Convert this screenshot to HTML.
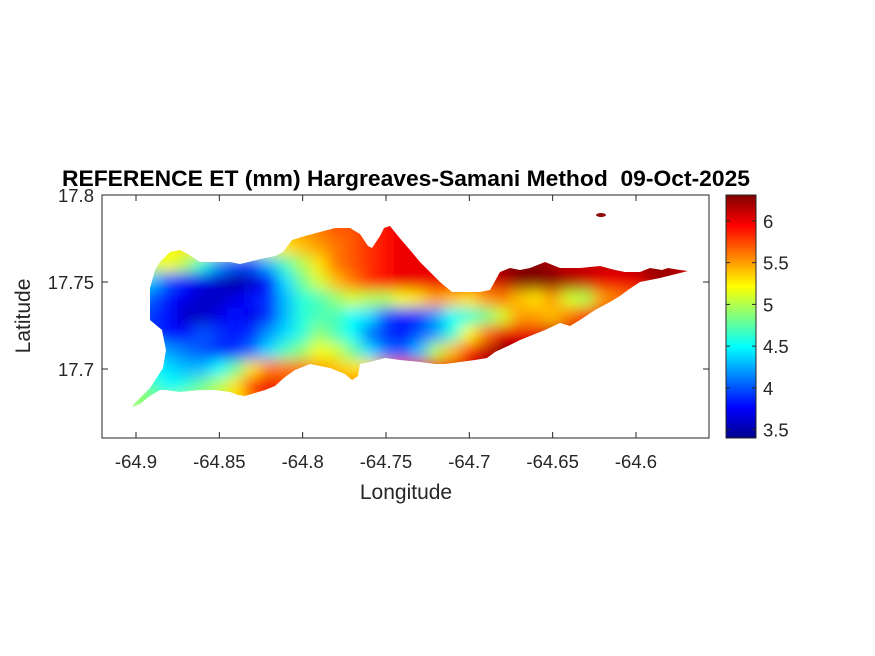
<!DOCTYPE html>
<html><head><meta charset="utf-8"><style>
body{margin:0;background:#fff;}
svg{display:block;font-family:"Liberation Sans",sans-serif;}
</style></head><body>
<svg id="chart" width="875" height="656" viewBox="0 0 875 656">
<defs>
<filter id="blur" filterUnits="userSpaceOnUse" x="100" y="190" width="620" height="240"><feGaussianBlur stdDeviation="7"/></filter>
<linearGradient id="jetgrad" x1="0" y1="1" x2="0" y2="0">
<stop offset="0" stop-color="#00008f"/><stop offset="0.125" stop-color="#0000ff"/><stop offset="0.375" stop-color="#00ffff"/><stop offset="0.625" stop-color="#ffff00"/><stop offset="0.875" stop-color="#ff0000"/><stop offset="1" stop-color="#800000"/>
</linearGradient>
<clipPath id="island"><polygon id="islandPoly"/><ellipse cx="601" cy="215" rx="5" ry="2"/></clipPath>
</defs>
<g clip-path="url(#island)"><g id="cells" filter="url(#blur)"></g></g>
<rect x="102" y="195" width="607" height="243" fill="none" stroke="#262626" stroke-width="1"/>
<g id="axes"></g>
<text x="406" y="186" text-anchor="middle" font-size="22" font-weight="bold" fill="#000" textLength="688" lengthAdjust="spacingAndGlyphs" xml:space="preserve" style="white-space:pre">REFERENCE ET (mm) Hargreaves-Samani Method  09-Oct-2025</text>
<text x="406" y="499" text-anchor="middle" font-size="21" fill="#262626">Longitude</text>
<text transform="translate(30,316) rotate(-90)" text-anchor="middle" font-size="21" fill="#262626">Latitude</text>
<rect x="726" y="195" width="30" height="243" fill="url(#jetgrad)" stroke="#262626" stroke-width="1"/>
<g id="cbar"></g>
</svg>
<script>
const lonStart=-64.90, lonStep=0.01;
const latRows=[17.79,17.78,17.77,17.76,17.75,17.74,17.73,17.72,17.71,17.70,17.69,17.68];
const r0=[5.0,5.0,5.0,5.0,5.0,5.0,5.0,5.0,5.2,5.4,5.5,5.6,5.7,5.8,5.8,5.9,6.0,6.0,6.0,6.1,6.1,6.2,6.2,6.2,6.2,6.2,6.2,6.3,6.3,6.3,6.2,6.2,6.2,6.2,6.2];
const r1=[5.0,5.0,5.1,5.2,5.2,5.2,5.2,5.2,5.3,5.4,5.5,5.6,5.7,5.7,5.8,5.9,6.0,6.0,6.0,6.1,6.1,6.2,6.2,6.2,6.2,6.2,6.2,6.2,6.2,6.2,6.2,6.2,6.2,6.2,6.2];
const r2=[5.0,5.1,5.2,5.3,5.3,5.2,5.1,5.1,5.2,5.3,5.4,5.5,5.6,5.7,5.8,5.9,6.0,6.0,6.0,6.1,6.1,6.2,6.2,6.2,6.2,6.2,6.2,6.2,6.2,6.2,6.2,6.2,6.2,6.2,6.2];
const r3=[5.0,5.1,5.2,5.0,4.6,4.2,4.0,4.0,4.3,4.7,5.0,5.3,5.6,5.7,5.8,5.9,6.0,6.0,6.0,6.0,6.1,6.2,6.3,6.3,6.3,6.2,6.1,6.1,6.1,6.1,6.2,6.25,6.2,6.1,6.1];
const r4=[4.5,4.3,4.0,3.8,3.7,3.6,3.5,3.6,3.8,4.4,4.8,5.1,5.4,5.6,5.8,5.9,6.0,6.0,6.0,5.9,5.9,6.0,6.1,6.3,6.3,6.3,6.2,6.1,6.0,6.0,6.0,6.2,6.25,6.1,6.1];
const r5=[4.2,4.0,3.8,3.7,3.6,3.6,3.7,3.8,3.9,4.3,4.6,4.7,4.9,5.1,5.0,5.0,5.2,5.3,5.5,5.4,5.3,5.5,5.6,5.4,5.3,5.5,5.1,5.0,5.5,5.6,5.7,5.8,5.9,5.9,5.9];
const r6=[4.0,3.9,3.8,3.6,3.6,3.7,3.8,3.7,3.9,4.3,4.6,4.7,4.7,4.5,4.4,4.0,3.8,3.9,4.2,4.5,4.6,4.8,5.1,5.5,5.5,5.4,5.6,5.8,6.0,6.0,6.0,6.0,6.0,6.0,6.0];
const r7=[4.0,3.9,3.8,3.8,4.0,3.9,3.8,3.9,4.2,4.4,4.6,4.9,4.7,4.5,4.1,3.9,3.8,4.0,4.2,4.6,5.2,5.6,6.0,6.0,6.0,6.1,6.1,6.1,6.1,6.1,6.1,6.1,6.1,6.1,6.1];
const r8=[4.3,4.3,4.2,4.1,4.0,3.9,3.9,4.1,4.4,4.7,4.9,5.2,5.1,4.8,4.4,4.1,4.0,4.3,5.0,5.4,5.8,6.1,6.3,6.3,6.2,6.2,6.2,6.2,6.2,6.2,6.2,6.2,6.2,6.2,6.2];
const r9=[4.6,4.5,4.4,4.3,4.3,4.5,4.8,5.3,5.6,5.6,5.6,5.5,5.4,5.3,5.3,5.5,5.7,6.0,6.0,6.0,6.1,6.2,6.2,6.2,6.2,6.2,6.2,6.2,6.2,6.2,6.2,6.2,6.2,6.2,6.2];
const r10=[4.9,4.7,4.5,4.6,4.8,5.0,5.3,5.8,6.0,5.8,5.6,5.5,5.6,5.6,5.6,5.6,5.6,5.6,5.6,5.6,5.6,5.6,5.6,5.6,5.6,5.6,5.6,5.6,5.6,5.6,5.6,5.6,5.6,5.6,5.6];
const r11=[4.9,4.9,4.9,5.0,5.0,5.1,5.3,5.6,5.8,5.8,5.6,5.6,5.6,5.6,5.6,5.6,5.6,5.6,5.6,5.6,5.6,5.6,5.6,5.6,5.6,5.6,5.6,5.6,5.6,5.6,5.6,5.6,5.6,5.6,5.6];
const gridRows=[r0,r1,r2,r3,r4,r5,r6,r7,r8,r9,r10,r11];
const xTicks=[-64.9,-64.85,-64.8,-64.75,-64.7,-64.65,-64.6];
const xTickLabels=["-64.9","-64.85","-64.8","-64.75","-64.7","-64.65","-64.6"];
const yTicks=[17.8,17.75,17.7];
const yTickLabels=["17.8","17.75","17.7"];
const cTicks=[3.5,4,4.5,5,5.5,6];
const cTickLabels=["3.5","4","4.5","5","5.5","6"];
const cMin=3.4, cMax=6.31;
const islandOutlinePx="133,405 150,388 163,368 166,350 162,330 150,320 150,288 155,270 160,262 170,252 180,250 188,254 200,262 230,262 240,264 265,258 275,256 283,252 292,240 305,236 320,232 335,228 350,228 360,234 368,246 372,248 380,236 384,228 390,226 398,236 410,250 420,262 440,282 452,292 480,292 490,290 500,272 510,268 520,270 530,268 545,262 560,268 580,268 600,266 615,270 625,272 640,272 650,268 662,270 668,268 680,270 688,271 680,273 660,278 640,282 628,290 620,296 610,302 595,310 580,320 570,326 560,323 545,330 530,336 520,340 508,346 495,352 487,358 475,360 460,362 445,364 435,364 420,362 400,360 385,358 370,362 360,364 358,376 352,380 345,374 330,368 310,364 295,370 285,377 275,386 265,390 245,396 238,395 230,392 215,390 200,390 180,392 165,390 160,390 150,396 140,404 133,407";

const NS="http://www.w3.org/2000/svg";
function xS(lon){return 136+(lon+64.9)/0.05*83.33;}
function yS(lat){return 195+(17.8-lat)/0.05*87;}
function cS(v){return 438-(v-cMin)/(cMax-cMin)*243;}
function jet(v){
  let t=(v-cMin)/(cMax-cMin);t=Math.max(0,Math.min(1,t));
  const f=(x)=>Math.max(0,Math.min(1,1.5-Math.abs(4*t-x)));
  return `rgb(${Math.round(255*f(3))},${Math.round(255*f(2))},${Math.round(255*f(1))})`;
}
document.getElementById('islandPoly').setAttribute('points',islandOutlinePx);
const cells=document.getElementById('cells');
gridRows.forEach((row,j)=>{
  row.forEach((v,i)=>{
    const lon=lonStart+i*lonStep, lat=latRows[j];
    const r=document.createElementNS(NS,'rect');
    const x0=xS(lon-0.005), x1=xS(lon+0.005), y0=yS(lat+0.005), y1=yS(lat-0.005);
    r.setAttribute('x',x0-0.5);r.setAttribute('y',y0-0.5);
    r.setAttribute('width',x1-x0+1);r.setAttribute('height',y1-y0+1);
    r.setAttribute('fill',jet(v));
    
    
    cells.appendChild(r);
  });
});
const axes=document.getElementById('axes');
function line(g,x1,y1,x2,y2){const l=document.createElementNS(NS,'line');l.setAttribute('x1',x1);l.setAttribute('y1',y1);l.setAttribute('x2',x2);l.setAttribute('y2',y2);l.setAttribute('stroke','#262626');g.appendChild(l);return l;}
function text(g,x,y,s,anchor){const t=document.createElementNS(NS,'text');t.setAttribute('x',x);t.setAttribute('y',y);t.setAttribute('text-anchor',anchor);t.setAttribute('font-size','18.5');t.setAttribute('fill','#262626');t.textContent=s;g.appendChild(t);return t;}
xTicks.forEach((v,i)=>{
  const x=xS(v);
  line(axes,x,438,x,432);line(axes,x,195,x,201);
  const t=text(axes,x,468,xTickLabels[i],'middle');
  
  
});
yTicks.forEach((v,i)=>{
  const y=yS(v);
  line(axes,102,y,108,y);line(axes,709,y,703,y);
  const t=text(axes,94,y+7,yTickLabels[i],'end');
  
  
});
const cb=document.getElementById('cbar');
cTicks.forEach((v,i)=>{
  const y=cS(v);
  line(cb,726,y,730,y);line(cb,756,y,752,y);
  const t=text(cb,763,y+7,cTickLabels[i],'start');
  
  
});
</script>
</body></html>
